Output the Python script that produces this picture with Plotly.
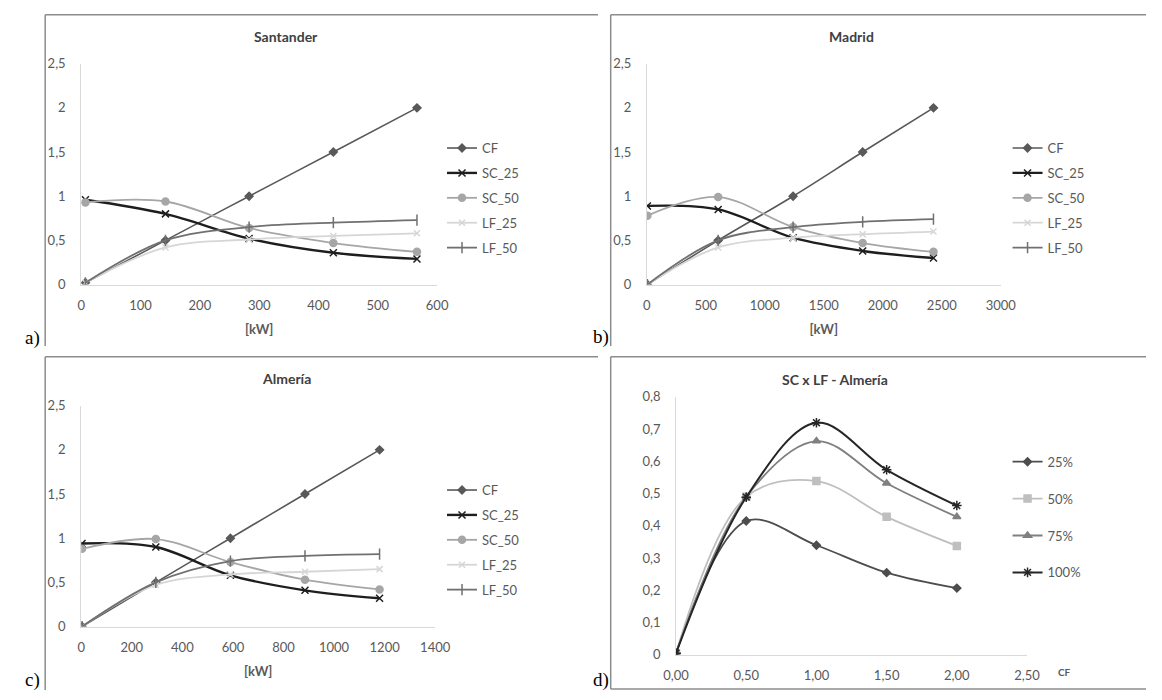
import plotly.graph_objects as go

# ---------------- data ----------------
series_names = ["CF", "SC_25", "SC_50", "LF_25", "LF_50"]

santander_kw = [7, 142, 283, 425, 566]
santander_cf = [0.02, 0.50, 1.00, 1.50, 2.00]
santander_sc25 = [0.96, 0.80, 0.52, 0.36, 0.29]
santander_sc50 = [0.93, 0.94, 0.64, 0.47, 0.37]
santander_lf25 = [0.02, 0.42, 0.51, 0.55, 0.58]
santander_lf50 = [0.02, 0.50, 0.65, 0.70, 0.73]

madrid_kw = [5, 605, 1240, 1830, 2430]
madrid_cf = [0.00, 0.50, 1.00, 1.50, 2.00]
madrid_sc25 = [0.89, 0.85, 0.53, 0.38, 0.30]
madrid_sc50 = [0.78, 0.99, 0.65, 0.47, 0.37]
madrid_lf25 = [0.00, 0.42, 0.53, 0.57, 0.60]
madrid_lf50 = [0.00, 0.50, 0.65, 0.71, 0.74]

almeria_kw = [3, 295, 590, 885, 1180]
almeria_cf = [0.00, 0.50, 1.00, 1.50, 2.00]
almeria_sc25 = [0.94, 0.90, 0.58, 0.41, 0.32]
almeria_sc50 = [0.88, 0.99, 0.73, 0.53, 0.42]
almeria_lf25 = [0.00, 0.47, 0.59, 0.62, 0.65]
almeria_lf50 = [0.00, 0.50, 0.74, 0.80, 0.82]

d_names = ["25%", "50%", "75%", "100%"]
d_cf = [0.00, 0.50, 1.00, 1.50, 2.00]
d_25 = [0.005, 0.415, 0.34, 0.255, 0.207]
d_50 = [0.005, 0.49, 0.539, 0.428, 0.338]
d_75 = [0.005, 0.49, 0.663, 0.532, 0.428]
d_100 = [0.005, 0.489, 0.72, 0.574, 0.463]

titles = ["Santander", "Madrid", "Almería", "SC x LF - Almería"]
panel_labels = ["a)", "b)", "c)", "d)"]

# ---------------- layout helpers ----------------
W, H = 1162, 700
def px(x):
    return x / W
def py(y):
    return 1 - y / H

FONT = "Lato, 'Open Sans', sans-serif"
TICK_COLOR = "#595959"

styles = {
    "CF": dict(color="#595959", width=1.6, symbol="diamond", size=6),
    "SC_25": dict(color="#1e1e1e", width=2.4, symbol="x-thin-open", size=7),
    "SC_50": dict(color="#a6a6a6", width=1.8, symbol="circle", size=7),
    "LF_25": dict(color="#d6d6d6", width=1.8, symbol="x-thin-open", size=6),
    "LF_50": dict(color="#707070", width=1.8, symbol="line-ns-open", size=8),
    "25%": dict(color="#4d4d4d", width=1.8, symbol="diamond", size=6),
    "50%": dict(color="#bfbfbf", width=1.8, symbol="square", size=7),
    "75%": dict(color="#808080", width=1.8, symbol="triangle-up", size=7),
    "100%": dict(color="#262626", width=2.0, symbol="asterisk-open", size=8),
}

fig = go.Figure()

def add_series(x, y, name, xa, ya, leg):
    s = styles[name]
    fig.add_trace(go.Scatter(
        x=x, y=y, name=name, mode="lines+markers",
        line=dict(color=s["color"], width=s["width"], shape="spline", smoothing=1.0),
        marker=dict(symbol=s["symbol"], size=s["size"], color=s["color"],
                    line=dict(color=s["color"], width=1.5)),
        xaxis=xa, yaxis=ya, legend=leg, legendgroup=leg + name,
    ))

panels = [
    (santander_kw, [santander_cf, santander_sc25, santander_sc50, santander_lf25, santander_lf50]),
    (madrid_kw, [madrid_cf, madrid_sc25, madrid_sc50, madrid_lf25, madrid_lf50]),
    (almeria_kw, [almeria_cf, almeria_sc25, almeria_sc50, almeria_lf25, almeria_lf50]),
]
axis_ids = [("x", "y", "legend"), ("x2", "y2", "legend2"), ("x3", "y3", "legend3")]
for (xv, ys), (xa, ya, leg) in zip(panels, axis_ids):
    for name, yv in zip(series_names, ys):
        add_series(xv, yv, name, xa, ya, leg)

for name, yv in zip(d_names, [d_25, d_50, d_75, d_100]):
    add_series(d_cf, yv, name, "x4", "y4", "legend4")

# plot-area pixel boxes: (left, right, top, bottom)
boxes = [
    (70, 435, 57, 283),
    (650, 1013, 57, 283),
    (70, 433, 407, 633),
    (680, 1040, 398, 662),
]
xranges = [[0, 600], [0, 3000], [0, 1400], [0, 2.5]]
xdticks = [100, 500, 200, 0.5]
yranges = [[0, 2.5], [0, 2.5], [0, 2.5], [0, 0.8]]
ydticks = [0.5, 0.5, 0.5, 0.1]

layout = dict(
    width=W, height=H, margin=dict(l=0, r=0, t=0, b=0),
    paper_bgcolor="white", plot_bgcolor="white",
    separators=",.", font=dict(family=FONT, color=TICK_COLOR, size=13),
    showlegend=True,
)
axis_line = "#d9d9d9"
for i, (l, r, t, b) in enumerate(boxes):
    sfx = "" if i == 0 else str(i + 1)
    xa = dict(domain=[px(l), px(r)], range=xranges[i], dtick=xdticks[i], tick0=0,
              showgrid=False, zeroline=False, showline=True, linecolor=axis_line, linewidth=1,
              ticks="", ticklabelstandoff=9, tickfont=dict(size=13, color=TICK_COLOR),
              anchor="y" + sfx, fixedrange=True)
    ya = dict(domain=[py(b), py(t)], range=yranges[i], dtick=ydticks[i], tick0=0,
              showgrid=False, zeroline=False, showline=True, linecolor=axis_line, linewidth=1,
              ticks="", ticklabelstandoff=12, tickfont=dict(size=13, color=TICK_COLOR),
              anchor="x" + sfx, fixedrange=True)
    if i < 3:
        xa["title"] = dict(text="<b>[kW]</b>", font=dict(size=13, color=TICK_COLOR), standoff=12)
    else:
        xa["tickformat"] = ".2f"
    layout["xaxis" + sfx] = xa
    layout["yaxis" + sfx] = ya

legend_pos = [(440, 128, 5), (1020, 128, 5), (440, 478, 5), (1020, 449, 17)]
for i, (lx, ly, gap) in enumerate(legend_pos):
    key = "legend" if i == 0 else "legend" + str(i + 1)
    layout[key] = dict(x=px(lx), y=py(ly), xanchor="left", yanchor="top",
                       bgcolor="rgba(0,0,0,0)", font=dict(size=13, color=TICK_COLOR),
                       itemwidth=30, tracegroupgap=gap, traceorder="grouped",
                       itemclick=False, itemdoubleclick=False)

fig.update_layout(**layout)

# titles
title_pos = [(280, 29), (860, 29), (280, 379), (843, 380)]
for txt, (tx, ty) in zip(titles, title_pos):
    fig.add_annotation(text="<b>" + txt + "</b>", x=px(tx), y=py(ty), xref="paper", yref="paper",
                       xanchor="center", yanchor="middle", showarrow=False,
                       font=dict(family=FONT, size=14, color="#404040"))

# CF label in panel d
fig.add_annotation(text="<b>CF</b>", x=px(1078), y=py(680), xref="paper", yref="paper",
                   xanchor="center", yanchor="middle", showarrow=False,
                   font=dict(family=FONT, size=10, color=TICK_COLOR))

# panel letters
letter_pos = [(20, 338), (603, 337), (20, 688), (603, 688)]
for txt, (lx, ly) in zip(panel_labels, letter_pos):
    fig.add_annotation(text=txt, x=px(lx), y=py(ly), xref="paper", yref="paper",
                       xanchor="center", yanchor="middle", showarrow=False,
                       font=dict(family="Liberation Serif, serif", size=19, color="black"))

# panel frames
frame_color = "#8c8c8c"
frames = [
    (33, 7, 600, 7), (33, 7, 33, 346),
    (613, 7, 1162, 7), (613, 7, 613, 346),
    (33, 357, 600, 357), (33, 357, 33, 698),
    (613, 357, 1162, 357), (613, 357, 613, 697), (613, 697, 1162, 697),
]
for x0, y0, x1, y1 in frames:
    fig.add_shape(type="line", x0=px(x0), y0=py(y0), x1=px(x1), y1=py(y1),
                  xref="paper", yref="paper", line=dict(color=frame_color, width=1.5))

fig.write_html("out.html", config={"displayModeBar": False},
               post_script="document.body.style.margin='0';document.body.style.padding='0';"
                           "document.body.style.overflow='hidden';")
